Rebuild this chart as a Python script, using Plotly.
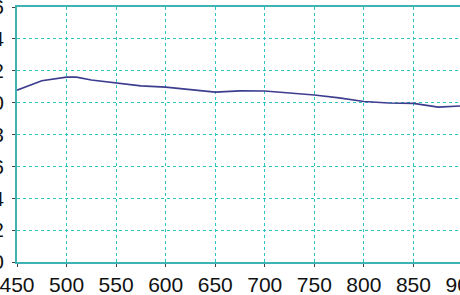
import plotly.graph_objects as go

wavelength = [450, 475, 500, 510, 525, 550, 575, 600, 625, 650, 675, 700, 725, 750, 775, 800, 825, 850, 875, 900]
signal = [10.78, 11.37, 11.6, 11.6, 11.42, 11.25, 11.05, 10.97, 10.82, 10.66, 10.74, 10.73, 10.6, 10.48, 10.3, 10.07, 9.98, 9.95, 9.72, 9.8]
x_ticks = [450, 500, 550, 600, 650, 700, 750, 800, 850, 900]
y_ticks = [0, 2, 4, 6, 8, 10, 12, 14, 16]

teal = "#3fb3b3"
grid = "#2ec4c0"

fig = go.Figure(go.Scatter(x=wavelength, y=signal, mode="lines",
                           line=dict(color="#3d3d8f", width=1.6)))

fig.update_layout(
    width=466, height=295,
    margin=dict(l=17, r=3, t=7, b=33),
    paper_bgcolor="white", plot_bgcolor="white",
    showlegend=False,
    font=dict(family="Liberation Sans, Arial, sans-serif", size=21, color="#111"),
)
fig.update_xaxes(range=[450, 900], tickvals=x_ticks, showline=True, linecolor=teal, linewidth=2,
                 mirror=True, showgrid=True, gridcolor=grid, griddash="dot", gridwidth=1.3,
                 ticks="outside", ticklen=3, tickcolor="#444", zeroline=False, automargin=False,
                 tickfont=dict(size=21), ticklabeloverflow="allow")
fig.update_yaxes(range=[0, 16], tickvals=y_ticks, showline=True, linecolor=teal, linewidth=2,
                 mirror=True, showgrid=True, gridcolor=grid, griddash="dot", gridwidth=1.3,
                 ticks="outside", ticklen=3, tickcolor="#444", zeroline=False, automargin=False,
                 tickfont=dict(size=21), ticklabelstandoff=4, ticklabeloverflow="allow")

fig.write_html("out.html", post_script="document.documentElement.style.overflow='hidden';document.body.style.overflow='hidden';document.body.style.margin='0';")
